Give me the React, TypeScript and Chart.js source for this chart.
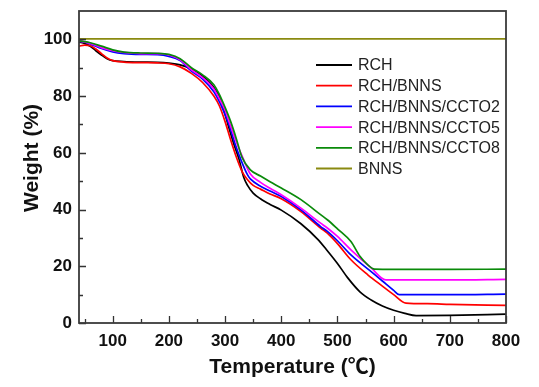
import React, { useEffect, useRef } from "react";
import { Chart, registerables } from "chart.js";

Chart.register(...registerables);

const seriesNames = ["RCH", "RCH/BNNS", "RCH/BNNS/CCTO2", "RCH/BNNS/CCTO5", "RCH/BNNS/CCTO8", "BNNS"];
const seriesColors = ["#000000", "#ff0000", "#0000ff", "#ff00ff", "#0a8a0a", "#8a8a10"];

const xTickValues = [50, 100, 150, 200, 250, 300, 350, 400, 450, 500, 550, 600, 650, 700, 750, 800];
const yTickValues = [0, 10, 20, 30, 40, 50, 60, 70, 80, 90, 100];

const rchT = [40, 50, 60, 70, 80, 90, 100, 120, 150, 180, 200, 220, 240, 260, 280, 290, 300, 306, 315, 325, 333, 340, 350, 363, 380, 400, 435, 465, 482, 500, 518, 540, 560, 580, 600, 620, 640, 700, 800];
const rchW = [99.0, 98.6, 97.6, 96.0, 94.5, 93.2, 92.5, 92.2, 92.0, 91.9, 91.6, 91.0, 89.5, 87.0, 83.0, 79.5, 73.5, 69.4, 63.5, 57.6, 51.5, 48.5, 45.8, 43.8, 41.8, 39.8, 35.0, 29.5, 25.5, 21.0, 16.0, 11.0, 8.1, 6.0, 4.5, 3.4, 2.6, 2.7, 3.1];

const bnnsRchT = [40, 50, 60, 70, 80, 90, 100, 120, 150, 180, 200, 220, 240, 260, 280, 290, 300, 310, 320, 330, 340, 350, 363, 380, 400, 435, 470, 482, 500, 524, 554, 580, 600, 622, 660, 700, 800];
const bnnsRchW = [97.6, 98.0, 97.8, 96.6, 95.0, 93.4, 92.5, 92.0, 91.8, 91.7, 91.4, 90.3, 88.0, 84.8, 80.0, 76.5, 71.0, 64.5, 58.5, 53.5, 50.5, 48.5, 47.2, 45.5, 43.8, 39.3, 33.5, 31.7, 28.0, 22.3, 17.0, 13.0, 10.0, 7.0, 6.8, 6.6, 6.2];

const ccto2T = [40, 50, 60, 80, 100, 120, 150, 180, 200, 220, 240, 260, 280, 290, 300, 308, 318, 328, 340, 345, 363, 380, 400, 435, 470, 482, 500, 524, 560, 580, 600, 610, 700, 800];
const ccto2W = [99.4, 99.0, 98.4, 96.8, 95.6, 95.0, 94.7, 94.6, 94.0, 92.5, 88.8, 86.0, 81.5, 78.0, 73.5, 69.4, 63.0, 57.6, 52.2, 50.8, 48.2, 46.5, 44.6, 39.9, 34.0, 32.3, 29.0, 24.0, 18.1, 14.8, 11.5, 10.0, 10.0, 10.2];

const ccto5T = [40, 50, 60, 80, 100, 120, 150, 180, 200, 220, 240, 260, 280, 290, 300, 310, 320, 333, 345, 363, 380, 400, 435, 470, 482, 500, 524, 560, 586, 700, 800];
const ccto5W = [99.4, 99.1, 98.6, 97.1, 96.0, 95.4, 95.0, 95.0, 94.5, 92.8, 89.3, 86.5, 82.5, 79.0, 75.0, 69.4, 63.8, 57.6, 52.5, 49.6, 47.5, 45.2, 40.5, 35.2, 33.5, 30.5, 25.8, 19.4, 15.2, 15.2, 15.4];

const ccto8T = [40, 50, 60, 80, 100, 120, 150, 180, 200, 220, 240, 260, 280, 290, 300, 310, 320, 330, 345, 363, 380, 400, 435, 470, 482, 500, 524, 540, 554, 566, 600, 700, 800];
const ccto8W = [99.5, 99.2, 98.8, 97.6, 96.3, 95.5, 95.2, 95.1, 94.7, 93.2, 90.0, 87.5, 84.0, 80.5, 76.0, 71.0, 65.0, 58.5, 54.0, 51.8, 49.8, 47.6, 43.5, 38.2, 36.4, 33.2, 28.7, 23.5, 20.5, 19.0, 18.9, 18.9, 19.0];

const bnnsT = [40, 800];
const bnnsW = [100.2, 100.2];

const allT = [rchT, bnnsRchT, ccto2T, ccto5T, ccto8T, bnnsT];
const allW = [rchW, bnnsRchW, ccto2W, ccto5W, ccto8W, bnnsW];

const FONT = "'Liberation Sans', Arial, 'Noto Sans CJK SC', sans-serif";

const decorPlugin = {
  id: "decor",
  afterDraw(chart: any) {
    const { ctx, chartArea: a, scales } = chart;
    const xs = scales.x;
    const ys = scales.y;
    ctx.save();
    ctx.strokeStyle = "#333";
    ctx.lineWidth = 1.3;
    ctx.beginPath();
    for (const v of xTickValues) {
      const px = Math.round(xs.getPixelForValue(v)) + 0.5;
      const len = v % 100 === 0 ? 7 : 4;
      ctx.moveTo(px, a.bottom);
      ctx.lineTo(px, a.bottom - len);
    }
    for (const v of yTickValues) {
      const py = Math.round(ys.getPixelForValue(v)) + 0.5;
      const len = v % 20 === 0 ? 7 : 4;
      ctx.moveTo(a.left, py);
      ctx.lineTo(a.left + len, py);
    }
    ctx.stroke();
    ctx.lineWidth = 1.8;
    ctx.strokeStyle = "#3a3a3a";
    ctx.strokeRect(a.left, a.top, a.right - a.left, a.bottom - a.top);

    // legend
    ctx.font = `16px ${FONT}`;
    ctx.textBaseline = "middle";
    ctx.textAlign = "left";
    seriesNames.forEach((name, i) => {
      const y = 65 + i * 20.7;
      ctx.strokeStyle = seriesColors[i];
      ctx.lineWidth = 1.8;
      ctx.beginPath();
      ctx.moveTo(316, y);
      ctx.lineTo(352, y);
      ctx.stroke();
      ctx.fillStyle = "#222";
      ctx.fillText(name, 358, y + 1);
    });

    // axis titles
    ctx.fillStyle = "#111";
    ctx.font = `bold 21px ${FONT}`;
    ctx.textAlign = "center";
    ctx.textBaseline = "middle";
    ctx.fillText("Temperature (\u2103)", (a.left + a.right) / 2, 367);
    ctx.save();
    ctx.translate(32, 158);
    ctx.rotate(-Math.PI / 2);
    ctx.fillText("Weight (%)", 0, 0);
    ctx.restore();
    ctx.restore();
  },
};

export default function App() {
  const canvasRef = useRef<HTMLCanvasElement | null>(null);

  useEffect(() => {
    document.body.style.margin = "0";
    const canvas = canvasRef.current;
    if (!canvas) return;
    const datasets = seriesNames.map((name, i) => ({
      label: name,
      data: allT[i].map((t, j) => ({ x: t, y: allW[i][j] })),
      borderColor: seriesColors[i],
      backgroundColor: seriesColors[i],
      borderWidth: 1.7,
      pointRadius: 0,
      fill: false,
      cubicInterpolationMode: "monotone" as const,
    }));
    const chart = new Chart(canvas, {
      type: "line",
      data: { datasets: datasets.slice().reverse() },
      options: {
        animation: false,
        responsive: false,
        maintainAspectRatio: false,
        layout: { padding: { top: 11, right: 33, left: 0, bottom: 0 } },
        plugins: { legend: { display: false }, tooltip: { enabled: false } },
        scales: {
          x: {
            type: "linear",
            min: 40,
            max: 800,
            grid: { display: false, drawTicks: false },
            border: { display: false },
            afterBuildTicks: (s: any) => {
              s.ticks = xTickValues.map((v) => ({ value: v }));
            },
            afterFit: (s: any) => {
              s.height = 64;
              s.paddingLeft = 0;
              s.paddingRight = 0;
            },
            ticks: {
              autoSkip: false,
              maxRotation: 0,
              padding: 8,
              color: "#111",
              font: { family: FONT, size: 17, weight: "bold" },
              callback: (v: any) => (Number(v) % 100 === 0 ? String(v) : ""),
            },
          },
          y: {
            type: "linear",
            min: 0,
            max: 110,
            grid: { display: false, drawTicks: false },
            border: { display: false },
            afterBuildTicks: (s: any) => {
              s.ticks = yTickValues.map((v) => ({ value: v }));
            },
            afterFit: (s: any) => {
              s.width = 79;
              s.paddingTop = 0;
              s.paddingBottom = 0;
            },
            ticks: {
              autoSkip: false,
              padding: 7,
              color: "#111",
              font: { family: FONT, size: 17, weight: "bold" },
              callback: (v: any) => (Number(v) % 20 === 0 ? String(v) : ""),
            },
          },
        },
      },
      plugins: [decorPlugin],
    });
    return () => chart.destroy();
  }, []);

  return (
    <div style={{ width: 539, height: 387, background: "#fff" }}>
      <canvas ref={canvasRef} width={539} height={387} style={{ display: "block" }} />
    </div>
  );
}
